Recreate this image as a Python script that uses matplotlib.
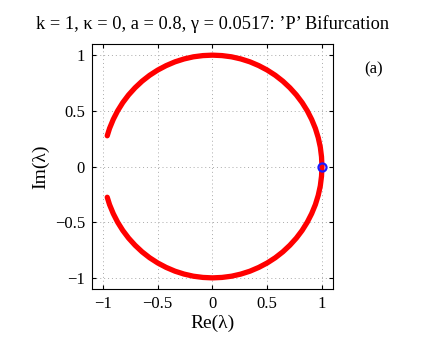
import matplotlib
matplotlib.use("Agg")
import matplotlib.pyplot as plt

# Eigenvalue spectrum (upper half; lower half is the complex conjugate)
re_upper = [1.000, 0.996, 0.985, 0.966, 0.940, 0.906, 0.866, 0.819, 0.766, 0.707,
            0.643, 0.574, 0.500, 0.423, 0.342, 0.259, 0.174, 0.087, 0.000,
            -0.087, -0.174, -0.259, -0.342, -0.423, -0.500, -0.574, -0.643,
            -0.707, -0.766, -0.819, -0.866, -0.906, -0.940, -0.961]
im_upper = [0.000, 0.087, 0.174, 0.259, 0.342, 0.423, 0.500, 0.574, 0.643, 0.707,
            0.766, 0.819, 0.866, 0.906, 0.940, 0.966, 0.985, 0.996, 1.000,
            0.996, 0.985, 0.966, 0.940, 0.906, 0.866, 0.819, 0.766,
            0.707, 0.643, 0.574, 0.500, 0.423, 0.342, 0.276]
# Critical eigenvalue (blue marker)
crit_re = [1.0]
crit_im = [0.0]

ticks = [-1, -0.5, 0, 0.5, 1]
tick_labels = ["\u22121", "\u22120.5", "0", "0.5", "1"]

plt.rcParams['font.family'] = ['Liberation Serif', 'DejaVu Serif']
plt.rcParams['mathtext.fontset'] = 'stix'

fig = plt.figure(figsize=(4.29, 3.46), dpi=100)
ax = fig.add_axes([0.2145, 0.1647, 0.5615, 0.7081])

re_full = re_upper[::-1] + re_upper[1:]
im_full = [-v for v in im_upper[::-1]] + im_upper[1:]
ax.plot(re_full, im_full, color='red', lw=3.8, solid_capstyle='round',
        solid_joinstyle='round', zorder=3)
ax.plot(crit_re, crit_im, 'o', mfc='none', mec='#1a1aff', mew=1.6, ms=5.8, zorder=4)

ax.set_xlim(-1.1, 1.1)
ax.set_ylim(-1.1, 1.1)
ax.set_xticks(ticks)
ax.set_xticklabels(tick_labels)
ax.set_yticks(ticks)
ax.set_yticklabels(tick_labels)
ax.tick_params(direction='in', top=True, right=True, labelsize=12, length=3, pad=5)
ax.grid(True, linestyle=(0, (1, 3)), color='#aaaaaa', lw=0.7)
for s in ax.spines.values():
    s.set_linewidth(0.8)

ax.set_xlabel("Re(\u03bb)", fontsize=14, labelpad=2)
ax.set_ylabel("Im(\u03bb)", fontsize=14, labelpad=4)
ax.set_title("k = 1, \u03ba = 0, a = 0.8, \u03b3 = 0.0517: \u2019P\u2019 Bifurcation",
             fontsize=13.2, pad=11)
fig.text(0.87, 0.80, "(a)", fontsize=12, ha='center', va='center')

fig.savefig("out.png", dpi=100)
